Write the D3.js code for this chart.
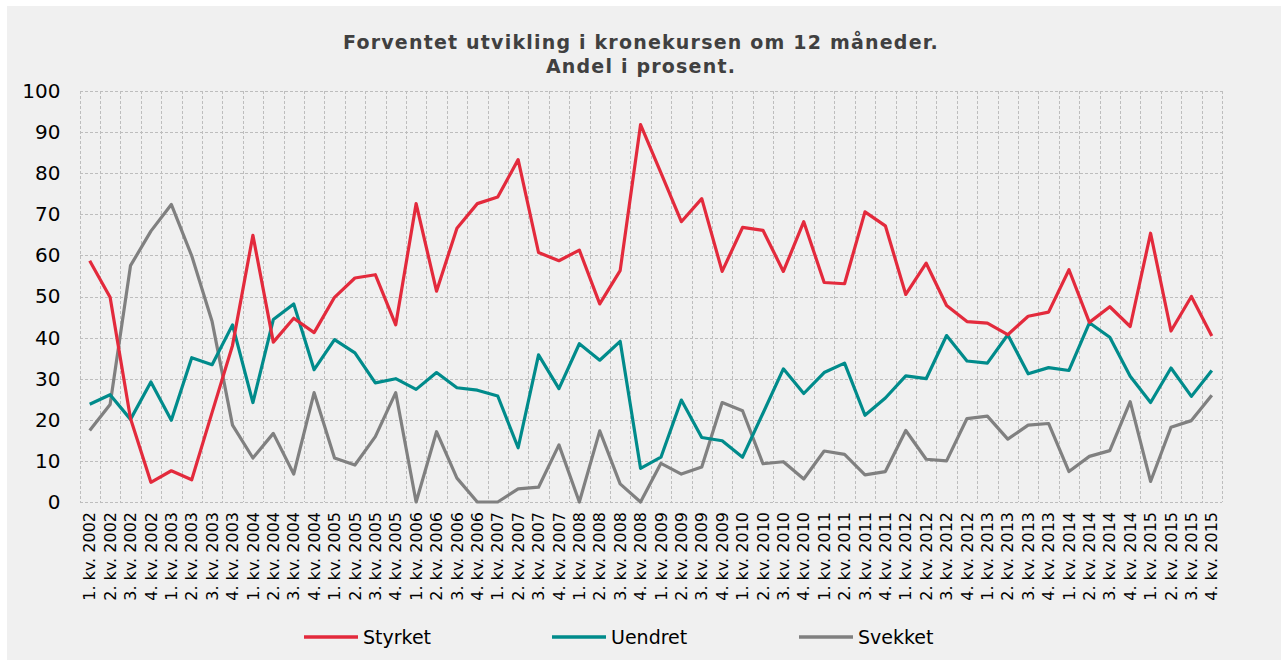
<!DOCTYPE html>
<html>
<head>
<meta charset="utf-8">
<script src="https://cdn.jsdelivr.net/npm/d3@7"></script>
<style>
  body { margin: 0; background: #fff; }
  svg { display: block; }
</style>
</head>
<body>
<script>
// quarters 2002-2015
var years = d3.range(2002, 2016);
var quarters = [];
years.forEach(function(y) {
    for (var q = 1; q <= 4; q++) quarters.push(q + ". kv. " + y);
});

var styrket = [58.7, 49.8, 20.3, 4.8, 7.6, 5.4, 21.8, 38.1, 64.9, 38.9, 44.7, 41.2, 49.8, 54.5,
    55.3, 43.1, 72.6, 51.3, 66.6, 72.6, 74.2, 83.3, 60.7, 58.7, 61.3, 48.2, 56.3, 91.8,
    80.1, 68.2, 73.8, 56.1, 66.8, 66.1, 56.1, 68.2, 53.4, 53.1, 70.6, 67.2, 50.5, 58.1,
    47.8, 43.9, 43.5, 40.7, 45.2, 46.2, 56.5, 43.7, 47.5, 42.7, 65.4, 41.6, 50.0, 40.4];

var uendret = [23.8, 26.1, 20.1, 29.2, 19.9, 35.1, 33.4, 43.1, 24.2, 44.4, 48.2, 32.2, 39.5, 36.3,
    29.0, 30.0, 27.4, 31.5, 27.8, 27.2, 25.8, 13.2, 35.8, 27.6, 38.5, 34.5, 39.1, 8.2,
    10.9, 24.8, 15.7, 14.9, 10.9, 21.6, 32.4, 26.4, 31.5, 33.8, 21.1, 25.3, 30.7, 30.0,
    40.5, 34.3, 33.8, 40.7, 31.2, 32.7, 32.0, 43.6, 40.1, 30.6, 24.2, 32.6, 25.7, 32.0];

var svekket = [17.4, 23.7, 57.5, 65.9, 72.4, 59.9, 43.9, 18.7, 10.7, 16.7, 6.8, 26.6, 10.7, 9.0,
    15.9, 26.6, 0, 17.1, 5.8, 0, 0, 3.2, 3.6, 13.9, 0, 17.3, 4.4, 0,
    9.4, 6.8, 8.5, 24.2, 22.2, 9.3, 9.8, 5.6, 12.4, 11.6, 6.6, 7.4, 17.4, 10.4,
    10.0, 20.3, 20.9, 15.3, 18.7, 19.1, 7.4, 11.1, 12.5, 24.4, 5.0, 18.2, 19.8, 26.0];

var seriesNames = ["Styrket", "Uendret", "Svekket"];
var seriesColors = ["#e32a3c", "#008b8b", "#808080"];
var yTicks = d3.range(0, 101, 10);

var width = 1281, height = 660;
var margin = {top: 91, right: 59, bottom: 156, left: 79.5};

var svg = d3.select("body").append("svg")
    .attr("width", width)
    .attr("height", height)
    .style("font-family", "'DejaVu Sans', Verdana, sans-serif");

// chart background
svg.append("rect")
    .attr("x", 7).attr("y", 6)
    .attr("width", width - 7).attr("height", height - 6)
    .attr("fill", "#f0f0f0");

var x = d3.scaleBand()
    .domain(quarters)
    .range([margin.left, width - margin.right]);

var y = d3.scaleLinear()
    .domain([0, 100])
    .range([height - margin.bottom - 2, margin.top]);

// grid
var grid = svg.append("g").attr("stroke", "#bdbdbd").attr("stroke-width", 1)
    .attr("stroke-dasharray", "3,2").attr("shape-rendering", "crispEdges");

grid.selectAll(".hg").data(yTicks).enter().append("line")
    .attr("x1", x.range()[0]).attr("x2", x.range()[1])
    .attr("y1", d => Math.round(y(d)) + 0.5).attr("y2", d => Math.round(y(d)) + 0.5);

var vx = quarters.map(q => x(q)).concat([x.range()[1]]);
grid.selectAll(".vg").data(vx).enter().append("line")
    .attr("x1", d => Math.round(d) + 0.5).attr("x2", d => Math.round(d) + 0.5)
    .attr("y1", y(100)).attr("y2", y(0));

// y axis labels
var yAxis = d3.axisLeft(y).tickValues(yTicks).tickSize(0).tickPadding(19);
var yg = svg.append("g").attr("transform", "translate(" + margin.left + ",0)").call(yAxis);
yg.select(".domain").remove();
yg.selectAll("text").style("font-size", "20px").attr("fill", "#000")
    .style("font-family", "'DejaVu Sans', Verdana, sans-serif");

// x axis labels
var xAxis = d3.axisBottom(x).tickSize(0).tickPadding(0);
var xg = svg.append("g").attr("transform", "translate(0," + y(0) + ")").call(xAxis);
xg.select(".domain").remove();
xg.selectAll("text")
    .style("font-size", "16px").attr("fill", "#000")
    .style("font-family", "'DejaVu Sans', Verdana, sans-serif")
    .attr("text-anchor", "end")
    .attr("transform", "rotate(-90)")
    .attr("x", -10).attr("y", 0).attr("dy", "0.35em");

// lines
var line = d3.line()
    .x((d, i) => x(quarters[i]) + x.bandwidth() / 2)
    .y(d => y(d));

var allSeries = [styrket, uendret, svekket];
// draw gray first, red on top
[2, 1, 0].forEach(function(k) {
    svg.append("path")
        .datum(allSeries[k])
        .attr("fill", "none")
        .attr("stroke", seriesColors[k])
        .attr("stroke-width", 3.2)
        .attr("stroke-linejoin", "round")
        .attr("d", line);
});

// title
var title = svg.append("text")
    .attr("text-anchor", "middle")
    .attr("fill", "#404040")
    .style("font-weight", "bold")
    .style("font-size", "19px")
    .style("letter-spacing", "1.2px");
title.append("tspan").attr("x", 641).attr("y", 49).text("Forventet utvikling i kronekursen om 12 måneder.");
title.append("tspan").attr("x", 641).attr("y", 73).text("Andel i prosent.");

// legend
var legendX = [304, 552, 799];
var legend = svg.append("g");
seriesNames.forEach(function(name, i) {
    legend.append("line")
        .attr("x1", legendX[i]).attr("x2", legendX[i] + 54)
        .attr("y1", 637).attr("y2", 637)
        .attr("stroke", seriesColors[i]).attr("stroke-width", 3.5);
    legend.append("text")
        .attr("x", legendX[i] + 59).attr("y", 644)
        .style("font-size", "19px").attr("fill", "#000")
        .text(name);
});
</script>
</body>
</html>
